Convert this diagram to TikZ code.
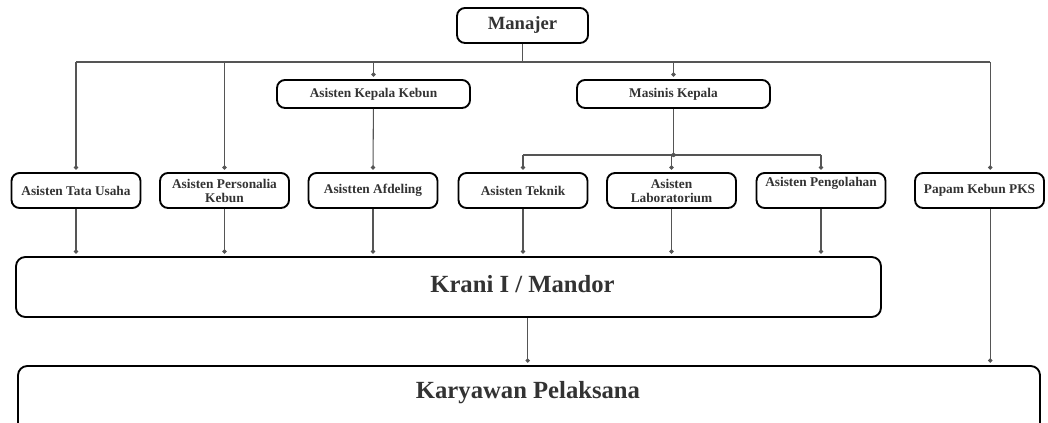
\documentclass[tikz,border=0pt]{standalone}
\usepackage{fontspec}
\setmainfont{Liberation Serif}
\usetikzlibrary{arrows.meta, positioning, calc}
\definecolor{inkgray}{HTML}{333333}
\definecolor{linkgray}{HTML}{555555}

\begin{document}
\begin{tikzpicture}[
  x=0.75pt, y=-0.75pt,
  orgbox/.style={
    draw=black, line width=1.4pt, rounded corners=6pt, fill=white,
    minimum width=96.75pt, minimum height=26.25pt, inner sep=2pt,
    font=\fontsize{10}{10.5}\selectfont\bfseries, text=inkgray, align=center},
  bigbox/.style={
    draw=black, line width=1.4pt, rounded corners=7pt, fill=white},
  bigtext/.style={font=\fontsize{18.5}{20}\selectfont\bfseries, text=inkgray},
  link/.style={draw=linkgray, line width=0.8pt},
  dotend/.style={-{Circle[length=3.2pt]}, shorten >=1.8pt},
]
\clip (0,0) rectangle (1048,423);

% === Manajer and the two heads ===
\node[orgbox, minimum width=98.25pt, font=\fontsize{14}{15}\selectfont\bfseries]
  (manajer) at (522.5,25.5) {Manajer};
\node[orgbox, minimum width=144.75pt, minimum height=21pt] (akk) at (373.5,94)
  {Asisten Kepala Kebun};
\node[orgbox, minimum width=144.75pt, minimum height=21pt] (mk) at (673.5,94)
  {Masinis Kepala};

% === Row of assistants ===
\node[orgbox] (atu) at (76,190.5)    {Asisten Tata Usaha};
\node[orgbox] (apk) at (224.5,190.5) {Asisten Personalia\\Kebun};
\node[orgbox] (aaf) at (373,190.5)   {Asistten Afdeling};
\node[orgbox] (ate) at (523,190.5)   {Asisten Teknik};
\node[orgbox] (ala) at (671.5,190.5) {Asisten\\Laboratorium};
\node[orgbox] (ape) at (821,190.5)   {Asisten Pengolahan\\\strut};
\node[orgbox] (ppk) at (979.5,190.5) {Papam Kebun PKS};

% === Lower levels ===
\node[bigbox, minimum width=648.75pt, minimum height=45pt] (krani) at (448.5,287) {};
\node[bigtext] (kranitxt) at (522.5,284) {Krani I / Mandor};
\node[bigbox, minimum width=766.5pt, minimum height=60pt] (kary) at (529,406) {};
\node[bigtext] (karytxt) at (528,393) {Karyawan Pelaksana};

% === Manajer bus ===
\coordinate (topbus) at (522.5,62);
\coordinate (ppkx) at ([xshift=8pt]ppk.north);
\draw[link] (manajer) -- (topbus);
\draw[link] (atu.north |- topbus) -- (ppkx |- topbus);
\foreach \n in {atu,apk,akk,mk}
  \draw[link, dotend] (\n.north |- topbus) -- (\n.north);
\draw[link, dotend] (ppkx |- topbus) -- (ppkx);

% === Kepala Kebun to Afdeling ===
\draw[link, dotend] (akk) -- (aaf.north);

% === Masinis Kepala branch ===
\coordinate (mkbus) at (673.5,155);
\draw[link] (mk) -- (mkbus);
\draw[link] (ate.north |- mkbus) -- (ape.north |- mkbus);
\fill[linkgray] (mkbus) circle (1.6pt);
\foreach \n in {ate,ala,ape}
  \draw[link, dotend] (\n.north |- mkbus) -- (\n.north);

% === Assistants down to Krani ===
\foreach \n in {atu,apk,aaf,ate,ala,ape}
  \draw[link, dotend] (\n.south) -- (\n.south |- krani.north);

% === Down to Karyawan ===
\draw[link, dotend] ([xshift=3.5pt]ate.south |- krani.south)
  -- ([xshift=3.5pt]ate.south |- kary.north);
\draw[link, dotend] ([xshift=8pt]ppk.south) -- ([xshift=8pt]ppk.south |- kary.north);

\end{tikzpicture}
\end{document}
